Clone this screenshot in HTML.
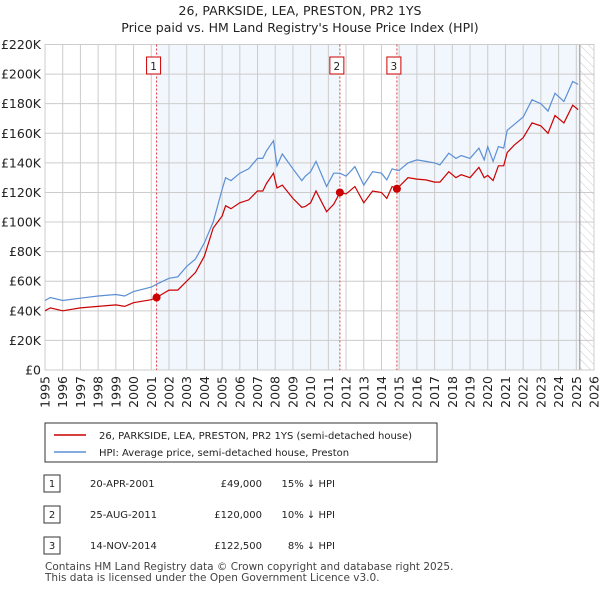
<!DOCTYPE html>
<html><head><meta charset="utf-8"><style>
body{margin:0;background:#fff;font-family:"Liberation Sans","DejaVu Sans",sans-serif;}
svg text{font-family:"DejaVu Sans","Liberation Sans",sans-serif;}
</style></head><body>
<svg id="c" width="600" height="590" viewBox="0 0 600 590" xmlns="http://www.w3.org/2000/svg">
<defs><pattern id="hatch" width="6" height="6" patternUnits="userSpaceOnUse" patternTransform="rotate(-45)"><line x1="0" y1="0" x2="0" y2="6" stroke="#ccc" stroke-width="1"/></pattern></defs>
<text x="300" y="15" text-anchor="middle" font-size="12.5" fill="#222">26, PARKSIDE, LEA, PRESTON, PR2 1YS</text>
<text x="300" y="32" text-anchor="middle" font-size="12.5" fill="#222">Price paid vs. HM Land Registry's House Price Index (HPI)</text>
<g id="plot"></g>
<g>
<rect x="45" y="423" width="392" height="39" fill="#fff" stroke="#333"/>
<line x1="54" y1="435" x2="86" y2="435" stroke="#cc0000" stroke-width="1.5"/>
<text x="99" y="439" font-size="10" fill="#222">26, PARKSIDE, LEA, PRESTON, PR2 1YS (semi-detached house)</text>
<line x1="54" y1="452" x2="86" y2="452" stroke="#5b8fd4" stroke-width="1.5"/>
<text x="99" y="456" font-size="10" fill="#222">HPI: Average price, semi-detached house, Preston</text>
</g>
<g font-size="10" fill="#222">
<rect x="44" y="475" width="16" height="17" fill="#fff" stroke="#333"/><text x="52" y="487" text-anchor="middle">1</text>
<text x="90" y="487">20-APR-2001</text><text x="262" y="487" text-anchor="end">£49,000</text><text x="335" y="487" text-anchor="end">15% ↓ HPI</text>
<rect x="44" y="506" width="16" height="17" fill="#fff" stroke="#333"/><text x="52" y="518" text-anchor="middle">2</text>
<text x="90" y="518">25-AUG-2011</text><text x="262" y="518" text-anchor="end">£120,000</text><text x="335" y="518" text-anchor="end">10% ↓ HPI</text>
<rect x="44" y="537" width="16" height="17" fill="#fff" stroke="#333"/><text x="52" y="549" text-anchor="middle">3</text>
<text x="90" y="549">14-NOV-2014</text><text x="262" y="549" text-anchor="end">£122,500</text><text x="335" y="549" text-anchor="end">8% ↓ HPI</text>
</g>
<text x="45" y="570" font-size="10.5" fill="#444">Contains HM Land Registry data © Crown copyright and database right 2025.</text>
<text x="45" y="581" font-size="10.5" fill="#444">This data is licensed under the Open Government Licence v3.0.</text>
</svg>
<script>
const years=[1995,1995.3,1996,1997,1998,1999,1999.5,2000,2001,2001.3,2002,2002.5,2003,2003.5,2004,2004.5,2005,2005.2,2005.5,2006,2006.5,2007,2007.3,2007.5,2007.9,2008.1,2008.4,2009,2009.5,2009.7,2010,2010.3,2010.9,2011.3,2011.65,2012,2012.5,2013,2013.5,2014,2014.3,2014.6,2014.87,2015,2015.5,2016,2016.5,2017,2017.3,2017.8,2018.2,2018.5,2019,2019.5,2019.8,2020,2020.3,2020.6,2020.9,2021.1,2021.5,2022,2022.5,2023,2023.4,2023.8,2024.3,2024.8,2025.1];
const hpiValues=[47,49,47,48.5,50,51,50,53,56,58,62,63,70,75,86,100,122,130,128,133,136,143,143,148,155,138,146,136,128,131,134,141,124,133,133,131,137.5,125,134,133,128.5,136,135,135,140,142,141,140,138.6,146.5,143,145,143,150,142,151,141,151,150,162,166,171,182.6,180,175,187,181.5,195,193];
const priceValues=[40,42,40,42,43,44,43,45.5,47.5,49,54,54,60,66,77,96,104,111,109,113,115,121,121,126,133,123,125,116,110,110.5,113,121,107,112,120,119,124,113,121,120,116,124,122.5,124,130,129,128.5,127,127,134,130,132,130,137,130,131.5,128,138,138,147,152,157,167,165,160,172,167,179,176];
const saleYears=[2001.3,2011.65,2014.87];
const salePrices=[49,120,122.5];
const saleLabels=["1","2","3"];
const yTicks=[0,20,40,60,80,100,120,140,160,180,200,220];
const xTicks=[1995,1996,1997,1998,1999,2000,2001,2002,2003,2004,2005,2006,2007,2008,2009,2010,2011,2012,2013,2014,2015,2016,2017,2018,2019,2020,2021,2022,2023,2024,2025,2026];
const dataEnd=2025.2;
const X0=45,X1=594,Y0=370,Y1=44.5;
const xs=v=>X0+(v-1995)/(2026-1995)*(X1-X0);
const ys=v=>Y0-v/220*(Y0-Y1);
const NS="http://www.w3.org/2000/svg";
const g=document.getElementById('plot');
function mk(t,a,p){const e=document.createElementNS(NS,t);for(const k in a)e.setAttribute(k,a[k]);(p||g).appendChild(e);return e;}
let e;
e=mk('rect',{x:xs(saleYears[0]),y:Y1,width:xs(saleYears[1])-xs(saleYears[0]),height:Y0-Y1,fill:'#f2f6fd'});


e=mk('rect',{x:xs(saleYears[2]),y:Y1,width:xs(dataEnd)-xs(saleYears[2]),height:Y0-Y1,fill:'#f2f6fd'});


e=mk('rect',{x:xs(dataEnd),y:Y1,width:X1-xs(dataEnd),height:Y0-Y1,fill:'url(#hatch)'});


yTicks.forEach(t=>{
 e=mk('line',{x1:X0,x2:X1,y1:ys(t),y2:ys(t),stroke:'#cccccc','stroke-width':1});
 
 
 e=mk('text',{x:X0-4,y:ys(t)+4.5,'text-anchor':'end','font-size':12.5,fill:'#222'});
 e.textContent='£'+(t===0?'0':t+'K');
 
 
});
xTicks.forEach(t=>{
 e=mk('line',{x1:xs(t),x2:xs(t),y1:Y1,y2:Y0,stroke:'#cccccc','stroke-width':1});
 
 
 e=mk('text',{x:0,y:0,'text-anchor':'end','font-size':12.5,fill:'#222',transform:`translate(${xs(t)+4.5},${Y0+6}) rotate(-90)`});
 e.textContent=t;
 
 
});
e=mk('line',{x1:xs(dataEnd),x2:xs(dataEnd),y1:Y1,y2:Y0,stroke:'#888','stroke-width':1});


e=mk('rect',{x:X0,y:Y1,width:X1-X0,height:Y0-Y1,fill:'none',stroke:'#cccccc'});


saleYears.forEach((s,i)=>{
 e=mk('line',{x1:xs(s),x2:xs(s),y1:Y1,y2:Y0,stroke:'#e04040','stroke-width':1,'stroke-dasharray':'2,2'});
 
 
 e=mk('rect',{x:xs(s)-10,y:57,width:14,height:17,fill:'#fff',stroke:'#cc0000'});
 
 
 e=mk('text',{x:xs(s)-3,y:70,'text-anchor':'middle','font-size':10.5,fill:'#222'});
 e.textContent=saleLabels[i];
 
 
});
const path=v=>years.map((y,i)=>(i?'L':'M')+xs(y).toFixed(1)+','+ys(v[i]).toFixed(1)).join('');
e=mk('path',{d:path(hpiValues),fill:'none',stroke:'#5b8fd4','stroke-width':1.2});


e=mk('path',{d:path(priceValues),fill:'none',stroke:'#cc0000','stroke-width':1.2});


saleYears.forEach((s,i)=>{
 e=mk('circle',{cx:xs(s),cy:ys(salePrices[i]),r:4,fill:'#cc0000'});
 
 
});
</script>
</body></html>
